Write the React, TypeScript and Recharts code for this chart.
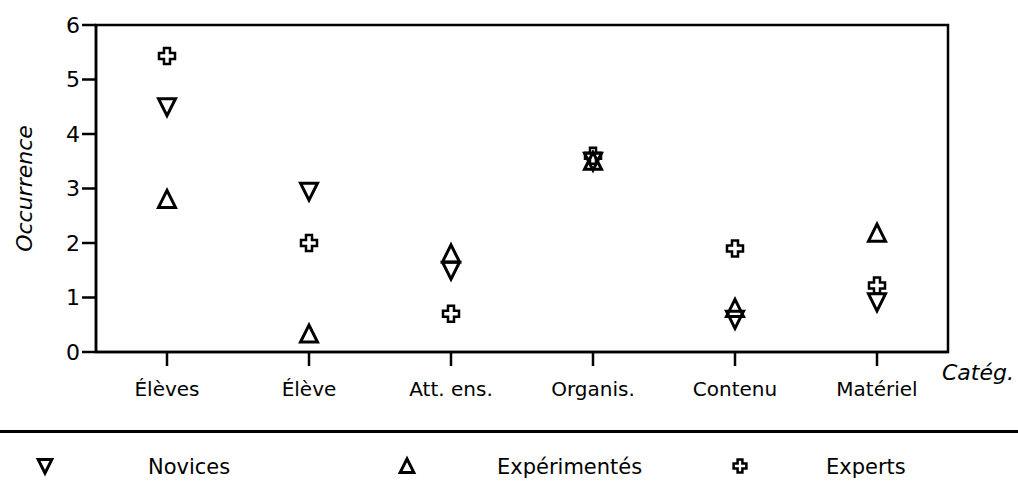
import React from "react";
import { ComposedChart, Line, XAxis, YAxis, Legend, ReferenceArea } from "recharts";

const categories = ["Élèves", "Élève", "Att. ens.", "Organis.", "Contenu", "Matériel"];
const novices = [4.5, 2.95, 1.5, 3.5, 0.6, 0.92];
const experimentes = [2.8, 0.33, 1.8, 3.5, 0.8, 2.18];
const experts = [5.43, 2.0, 0.7, 3.6, 1.9, 1.22];
const yTicks = [0, 1, 2, 3, 4, 5, 6];

const data = categories.map((cat, i) => ({
  cat,
  novices: novices[i],
  experimentes: experimentes[i],
  experts: experts[i]
}));

const font = "'DejaVu Sans', sans-serif";

type Kind = "down" | "up" | "cross";

function Glyph({ kind, cx, cy, s = 1 }: { kind: Kind; cx: number; cy: number; s?: number }) {
  if (kind === "down") {
    const d = `M${cx - 8.5 * s},${cy - 8 * s} L${cx + 8.5 * s},${cy - 8 * s} L${cx},${cy + 9 * s} Z`;
    return <path d={d} fill="none" stroke="#000" strokeWidth={3} strokeLinejoin="miter" />;
  }
  if (kind === "up") {
    const d = `M${cx - 8.5 * s},${cy + 8 * s} L${cx + 8.5 * s},${cy + 8 * s} L${cx},${cy - 9 * s} Z`;
    return <path d={d} fill="none" stroke="#000" strokeWidth={3} strokeLinejoin="miter" />;
  }
  const a = 3 * s;
  const l = 8 * s;
  const d = `M${cx - a},${cy - l} H${cx + a} V${cy - a} H${cx + l} V${cy + a} H${cx + a} V${cy + l} H${cx - a} V${cy + a} H${cx - l} V${cy - a} H${cx - a} Z`;
  return <path d={d} fill="none" stroke="#000" strokeWidth={2.5} />;
}

const dotFor = (kind: Kind) => (props: any) => {
  const { cx, cy, key } = props;
  if (cx == null || cy == null) return <g key={key} />;
  return <Glyph key={key} kind={kind} cx={cx} cy={cy} />;
};

// legend order and slot positions
const legendOrder: { key: string; kind: Kind; marker: number; text: number }[] = [
  { key: "novices", kind: "down", marker: 45, text: 148 },
  { key: "experimentes", kind: "up", marker: 407, text: 497 },
  { key: "experts", kind: "cross", marker: 740, text: 826 }
];

function LegendContent({ payload }: any) {
  const items = payload || [];
  return (
    <div style={{ position: "relative", width: 1018, height: 80 }}>
      <svg width={1018} height={80} style={{ position: "absolute", left: 0, top: 0 }}>
        <line x1={0} x2={1018} y1={11.5} y2={11.5} stroke="#000" strokeWidth={3} />
        {legendOrder.map((slot) => {
          const p = items.find((it: any) => it.dataKey === slot.key);
          if (!p) return null;
          return (
            <g key={slot.key}>
              <Glyph kind={slot.kind} cx={slot.marker} cy={46} s={0.8} />
              <text x={slot.text} y={54} fontSize={21} fontFamily={font} fill="#000">
                {p.value}
              </text>
            </g>
          );
        })}
      </svg>
    </div>
  );
}

export default function App() {
  return (
    <div style={{ position: "absolute", left: 0, top: 0, background: "#fff" }}>
      <ComposedChart width={1018} height={500} data={data} margin={{ top: 25, right: 70, bottom: 0, left: 0 }}>
        <XAxis
          dataKey="cat"
          scale="band"
          height={68}
          axisLine={{ stroke: "#000", strokeWidth: 2.5 }}
          tickLine={{ stroke: "#000", strokeWidth: 2.5 }}
          tickSize={14}
          tick={{ fill: "#000", fontSize: 20, fontFamily: font, dy: 14 }}
          interval={0}
          label={{
            content: ({ viewBox }: any) => (
              <text
                x={viewBox.x + viewBox.width - 6}
                y={viewBox.y + 28}
                fontSize={22}
                fontStyle="italic"
                fontFamily={font}
                fill="#000"
              >
                Catég.
              </text>
            )
          }}
        />
        <YAxis
          domain={[0, 6]}
          ticks={yTicks}
          width={96}
          axisLine={{ stroke: "#000", strokeWidth: 2.5 }}
          tickLine={{ stroke: "#000", strokeWidth: 2.5 }}
          tickSize={14}
          tick={{ fill: "#000", fontSize: 22, fontFamily: font }}
          label={{
            content: ({ viewBox }: any) => {
              const cx = 24;
              const cy = viewBox.y + viewBox.height / 2;
              return (
                <text
                  x={cx}
                  y={cy}
                  transform={`rotate(-90, ${cx}, ${cy})`}
                  textAnchor="middle"
                  dominantBaseline="central"
                  fontSize={22}
                  fontStyle="italic"
                  fontFamily={font}
                  fill="#000"
                >
                  Occurrence
                </text>
              );
            }
          }}
        />
        <ReferenceArea
          x1={categories[0]}
          x2={categories[categories.length - 1]}
          y1={0}
          y2={6}
          fill="none"
          fillOpacity={0}
          stroke="#000"
          strokeWidth={2.5}
          ifOverflow="visible"
        />
        <Legend verticalAlign="bottom" height={80} wrapperStyle={{ left: 0, bottom: 0, width: 1018 }} content={<LegendContent />} />
        <Line dataKey="novices" name="Novices" stroke="none" dot={dotFor("down")} activeDot={false} isAnimationActive={false} />
        <Line dataKey="experimentes" name="Expérimentés" stroke="none" dot={dotFor("up")} activeDot={false} isAnimationActive={false} />
        <Line dataKey="experts" name="Experts" stroke="none" dot={dotFor("cross")} activeDot={false} isAnimationActive={false} />
      </ComposedChart>
    </div>
  );
}
